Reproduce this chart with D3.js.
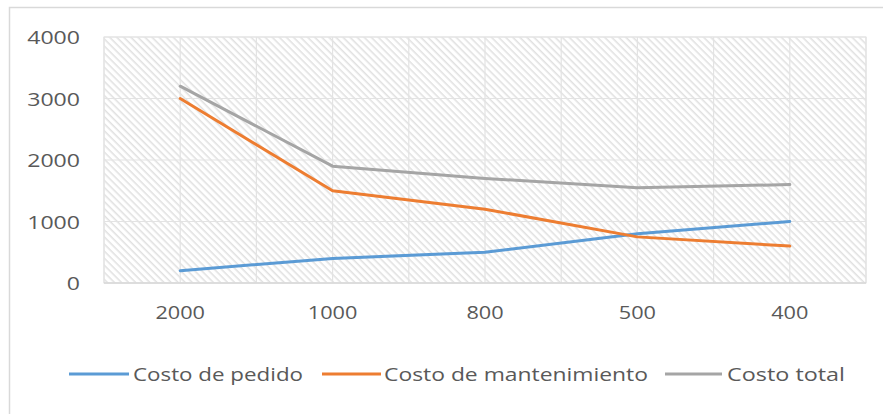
<!DOCTYPE html>
<html>
<head>
<meta charset="utf-8">
<script src="https://cdn.jsdelivr.net/npm/d3@7/dist/d3.min.js"></script>
<style>
  html, body { margin: 0; padding: 0; background: #fff; }
  svg { display: block; }
  text { font-family: "Open Sans", "Liberation Sans", sans-serif; fill: #595959; }
</style>
</head>
<body>
<svg id="chart" width="883" height="414"></svg>
<script>
// Lot sizes (Q) on the category axis
const categories = ["2000", "1000", "800", "500", "400"];
// Cost series for each lot size
const costoPedido = [200, 400, 500, 800, 1000];
const costoMantenimiento = [3000, 1500, 1200, 750, 600];
const costoTotal = [3200, 1900, 1700, 1550, 1600];
const yTicks = [0, 1000, 2000, 3000, 4000];
const seriesNames = ["Costo de pedido", "Costo de mantenimiento", "Costo total"];
const seriesColors = ["#5B9BD5", "#ED7D31", "#A5A5A5"];

const series = [costoPedido, costoMantenimiento, costoTotal];

const svg = d3.select("#chart");
const plot = { left: 104, right: 866, top: 37, bottom: 283 };

// Chart frame
svg.append("path")
  .attr("d", "M9.5,414 V7.5 H883")
  .attr("fill", "none")
  .attr("stroke", "#d9d9d9")
  .attr("stroke-width", 1.5);

// Diagonal hatch fill of the plot area
const defs = svg.append("defs");
const pat = defs.append("pattern")
  .attr("id", "hatch")
  .attr("patternUnits", "userSpaceOnUse")
  .attr("width", 5)
  .attr("height", 5)
  .attr("patternTransform", "rotate(-45)");
pat.append("line")
  .attr("x1", 1.2).attr("y1", 0).attr("x2", 1.2).attr("y2", 5)
  .attr("stroke", "#dedede")
  .attr("stroke-width", 1.4);

const x = d3.scaleBand().domain(categories).range([plot.left, plot.right]);
const y = d3.scaleLinear().domain([0, 4000]).range([plot.bottom, plot.top]);

svg.append("rect")
  .attr("x", plot.left).attr("y", plot.top)
  .attr("width", plot.right - plot.left).attr("height", plot.bottom - plot.top)
  .attr("fill", "url(#hatch)")
  .attr("stroke", "#e3e3e3")
  .attr("stroke-width", 1);

// Horizontal gridlines
svg.append("g").selectAll("line").data(yTicks).join("line")
  .attr("x1", plot.left).attr("x2", plot.right)
  .attr("y1", d => y(d)).attr("y2", d => y(d))
  .attr("stroke", "#e3e3e3").attr("stroke-width", 1.2);

// Vertical gridlines at band edges and centres
const vLines = [];
categories.forEach(c => { vLines.push(x(c)); vLines.push(x(c) + x.bandwidth() / 2); });
vLines.push(plot.right);
svg.append("g").selectAll("line").data(vLines).join("line")
  .attr("x1", d => d).attr("x2", d => d)
  .attr("y1", plot.top).attr("y2", plot.bottom)
  .attr("stroke", "#e3e3e3").attr("stroke-width", 1.2);

// Category axis baseline
svg.append("line")
  .attr("x1", plot.left).attr("x2", plot.right)
  .attr("y1", plot.bottom).attr("y2", plot.bottom)
  .attr("stroke", "#d9d9d9").attr("stroke-width", 1.5);

const digitW = 13.2;

// Y axis labels
const yAxis = d3.axisLeft(y).tickValues(yTicks).tickFormat(d3.format("d")).tickSize(0).tickPadding(0);
const yG = svg.append("g").attr("transform", `translate(80,0)`).call(yAxis);
yG.select(".domain").remove();
yG.selectAll("text")
  .attr("font-size", 19)
  .attr("fill", "#595959")
  .attr("dy", "0.36em")
  .each(function(d) {
    d3.select(this).attr("textLength", String(d).length * digitW).attr("lengthAdjust", "spacingAndGlyphs");
  });

// X axis labels
const xAxis = d3.axisBottom(x).tickSize(0).tickPadding(0);
const xG = svg.append("g").attr("transform", `translate(0,305)`).call(xAxis);
xG.select(".domain").remove();
xG.selectAll("text")
  .attr("font-size", 19)
  .attr("fill", "#595959")
  .attr("dy", "0.72em")
  .each(function(d) {
    d3.select(this).attr("textLength", d.length * 12.4).attr("lengthAdjust", "spacingAndGlyphs");
  });

// Series lines
const line = d3.line()
  .x((d, i) => x(categories[i]) + x.bandwidth() / 2)
  .y(d => y(d));

svg.append("g").selectAll("path").data(series).join("path")
  .attr("d", d => line(d))
  .attr("fill", "none")
  .attr("stroke", (d, i) => seriesColors[i])
  .attr("stroke-width", 3)
  .attr("stroke-linejoin", "round")
  .attr("stroke-linecap", "round");

// Legend
const legendItems = [
  { x0: 69, x1: 129, tx: 133, tw: 170 },
  { x0: 322, x1: 381, tx: 384, tw: 264 },
  { x0: 665, x1: 722, tx: 727, tw: 118 }
];
const lg = svg.append("g");
legendItems.forEach((it, i) => {
  lg.append("line")
    .attr("x1", it.x0).attr("x2", it.x1)
    .attr("y1", 374).attr("y2", 374)
    .attr("stroke", seriesColors[i]).attr("stroke-width", 3);
  lg.append("text")
    .attr("x", it.tx).attr("y", 381)
    .attr("font-size", 19)
    .attr("textLength", it.tw)
    .attr("lengthAdjust", "spacingAndGlyphs")
    .text(seriesNames[i]);
});
</script>
</body>
</html>
